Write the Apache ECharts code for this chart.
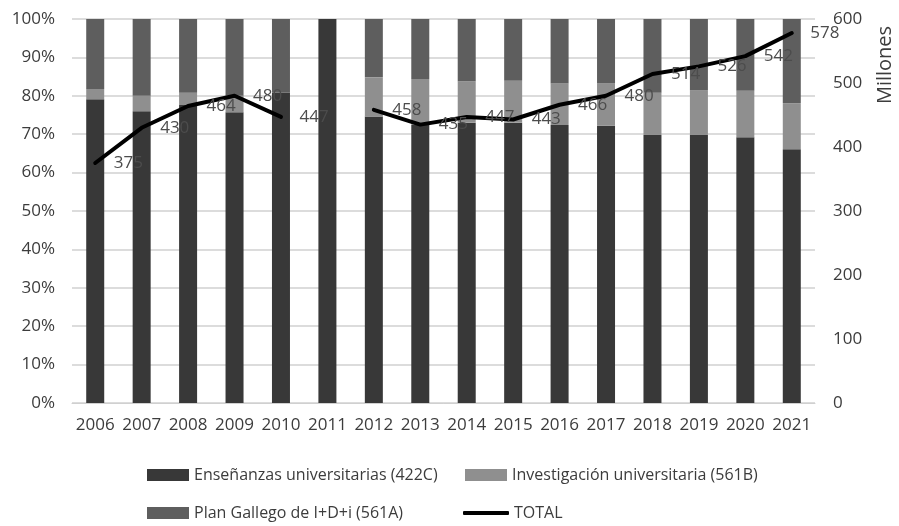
<!DOCTYPE html>
<html>
<head>
<meta charset="utf-8">
<script src="https://cdn.jsdelivr.net/npm/echarts@6/dist/echarts.min.js"></script>
<style>
  html, body { margin: 0; padding: 0; background: #fff; }
  #chart { width: 899px; height: 526px; }
</style>
</head>
<body>
<div id="chart"></div>
<script>
    // --- datos (porcentajes y total en millones) ---
    const years = ['2006','2007','2008','2009','2010','2011','2012','2013','2014','2015','2016','2017','2018','2019','2020','2021'];
    const ensenanzas = [79.1, 76.0, 77.6, 75.7, 80.8, 100, 74.6, 72.4, 73.0, 73.0, 72.4, 72.2, 69.8, 69.8, 69.2, 66.1];
    const investigacion = [2.7, 4.0, 3.2, 4.3, 0, 0, 10.2, 12.0, 10.7, 10.9, 10.8, 11.0, 11.0, 11.7, 12.1, 12.0];
    const planGallego = [18.2, 20.0, 19.2, 20.0, 19.2, 0, 15.2, 15.6, 16.3, 16.1, 16.8, 16.8, 19.2, 18.5, 18.7, 21.9];
    const total = [375, 430, 464, 480, 447, null, 458, 435, 447, 443, 466, 480, 514, 526, 542, 578];

    const names = ['Enseñanzas universitarias (422C)', 'Investigación universitaria (561B)', 'Plan Gallego de I+D+i (561A)', 'TOTAL'];
    const colors = ['#383838', '#8f8f8f', '#5e5e5e', '#000000'];

    const FONT = '"Open Sans", sans-serif';
    const TXT = '#3c3c3c';

    function legendAt(name, left, top, isLine) {
        return {
            data: [name], left: left, top: top, itemGap: 0,
            itemWidth: isLine ? 46 : 42, itemHeight: isLine ? 4 : 12,
            icon: isLine ? 'roundRect' : 'rect',
            textStyle: { color: TXT, fontSize: 16, fontFamily: FONT }
        };
    }

    const chart = echarts.init(document.getElementById('chart'));
    chart.setOption({
        animation: false,
        color: colors,
        grid: { left: 72, right: 84, top: 19, bottom: 123 },
        legend: [
            legendAt(names[0], 142, 462, false),
            legendAt(names[1], 460, 462, false),
            legendAt(names[2], 142, 500, false),
            legendAt(names[3], 458, 500, true)
        ],
        xAxis: {
            type: 'category', data: years,
            axisLine: { lineStyle: { color: '#d0d0d0' } },
            axisTick: { show: false },
            axisLabel: { interval: 0, color: TXT, fontSize: 17, fontFamily: FONT, margin: 14 }
        },
        yAxis: [
            {
                type: 'value', min: 0, max: 100, interval: 10,
                axisLabel: { formatter: '{value}%', color: TXT, fontSize: 17, fontFamily: FONT, margin: 17 },
                splitLine: { lineStyle: { color: '#d0d0d0', width: 1.5 } },
                axisLine: { show: false }, axisTick: { show: false }
            },
            {
                type: 'value', min: 0, max: 600, interval: 100,
                axisLabel: { color: TXT, fontSize: 17, fontFamily: FONT, margin: 18 },
                splitLine: { show: false },
                axisLine: { show: false }, axisTick: { show: false }
            }
        ],
        graphic: [{
            type: 'text', x: 885, y: 65, rotation: Math.PI / 2,
            style: { text: 'Millones', fill: TXT, font: '20px ' + FONT, textAlign: 'center', textVerticalAlign: 'middle' }
        }],
        series: [
            { name: names[0], type: 'bar', stack: 'p', data: ensenanzas, barWidth: 18, itemStyle: { color: colors[0] } },
            { name: names[1], type: 'bar', stack: 'p', data: investigacion, barWidth: 18, itemStyle: { color: colors[1] } },
            { name: names[2], type: 'bar', stack: 'p', data: planGallego, barWidth: 18, itemStyle: { color: colors[2] } },
            {
                name: names[3], type: 'line', yAxisIndex: 1, data: total, z: 10,
                connectNulls: false, symbol: 'circle', symbolSize: 1, showSymbol: true,
                lineStyle: { color: '#000', width: 4, cap: 'round', join: 'round' },
                itemStyle: { color: '#000' },
                label: { show: true, position: 'right', distance: 18, offset: [0, 2], color: '#4c4c4c', fontSize: 17, fontFamily: FONT },
                labelLayout: { hideOverlap: false }
            }
        ]
    });
</script>
</body>
</html>
